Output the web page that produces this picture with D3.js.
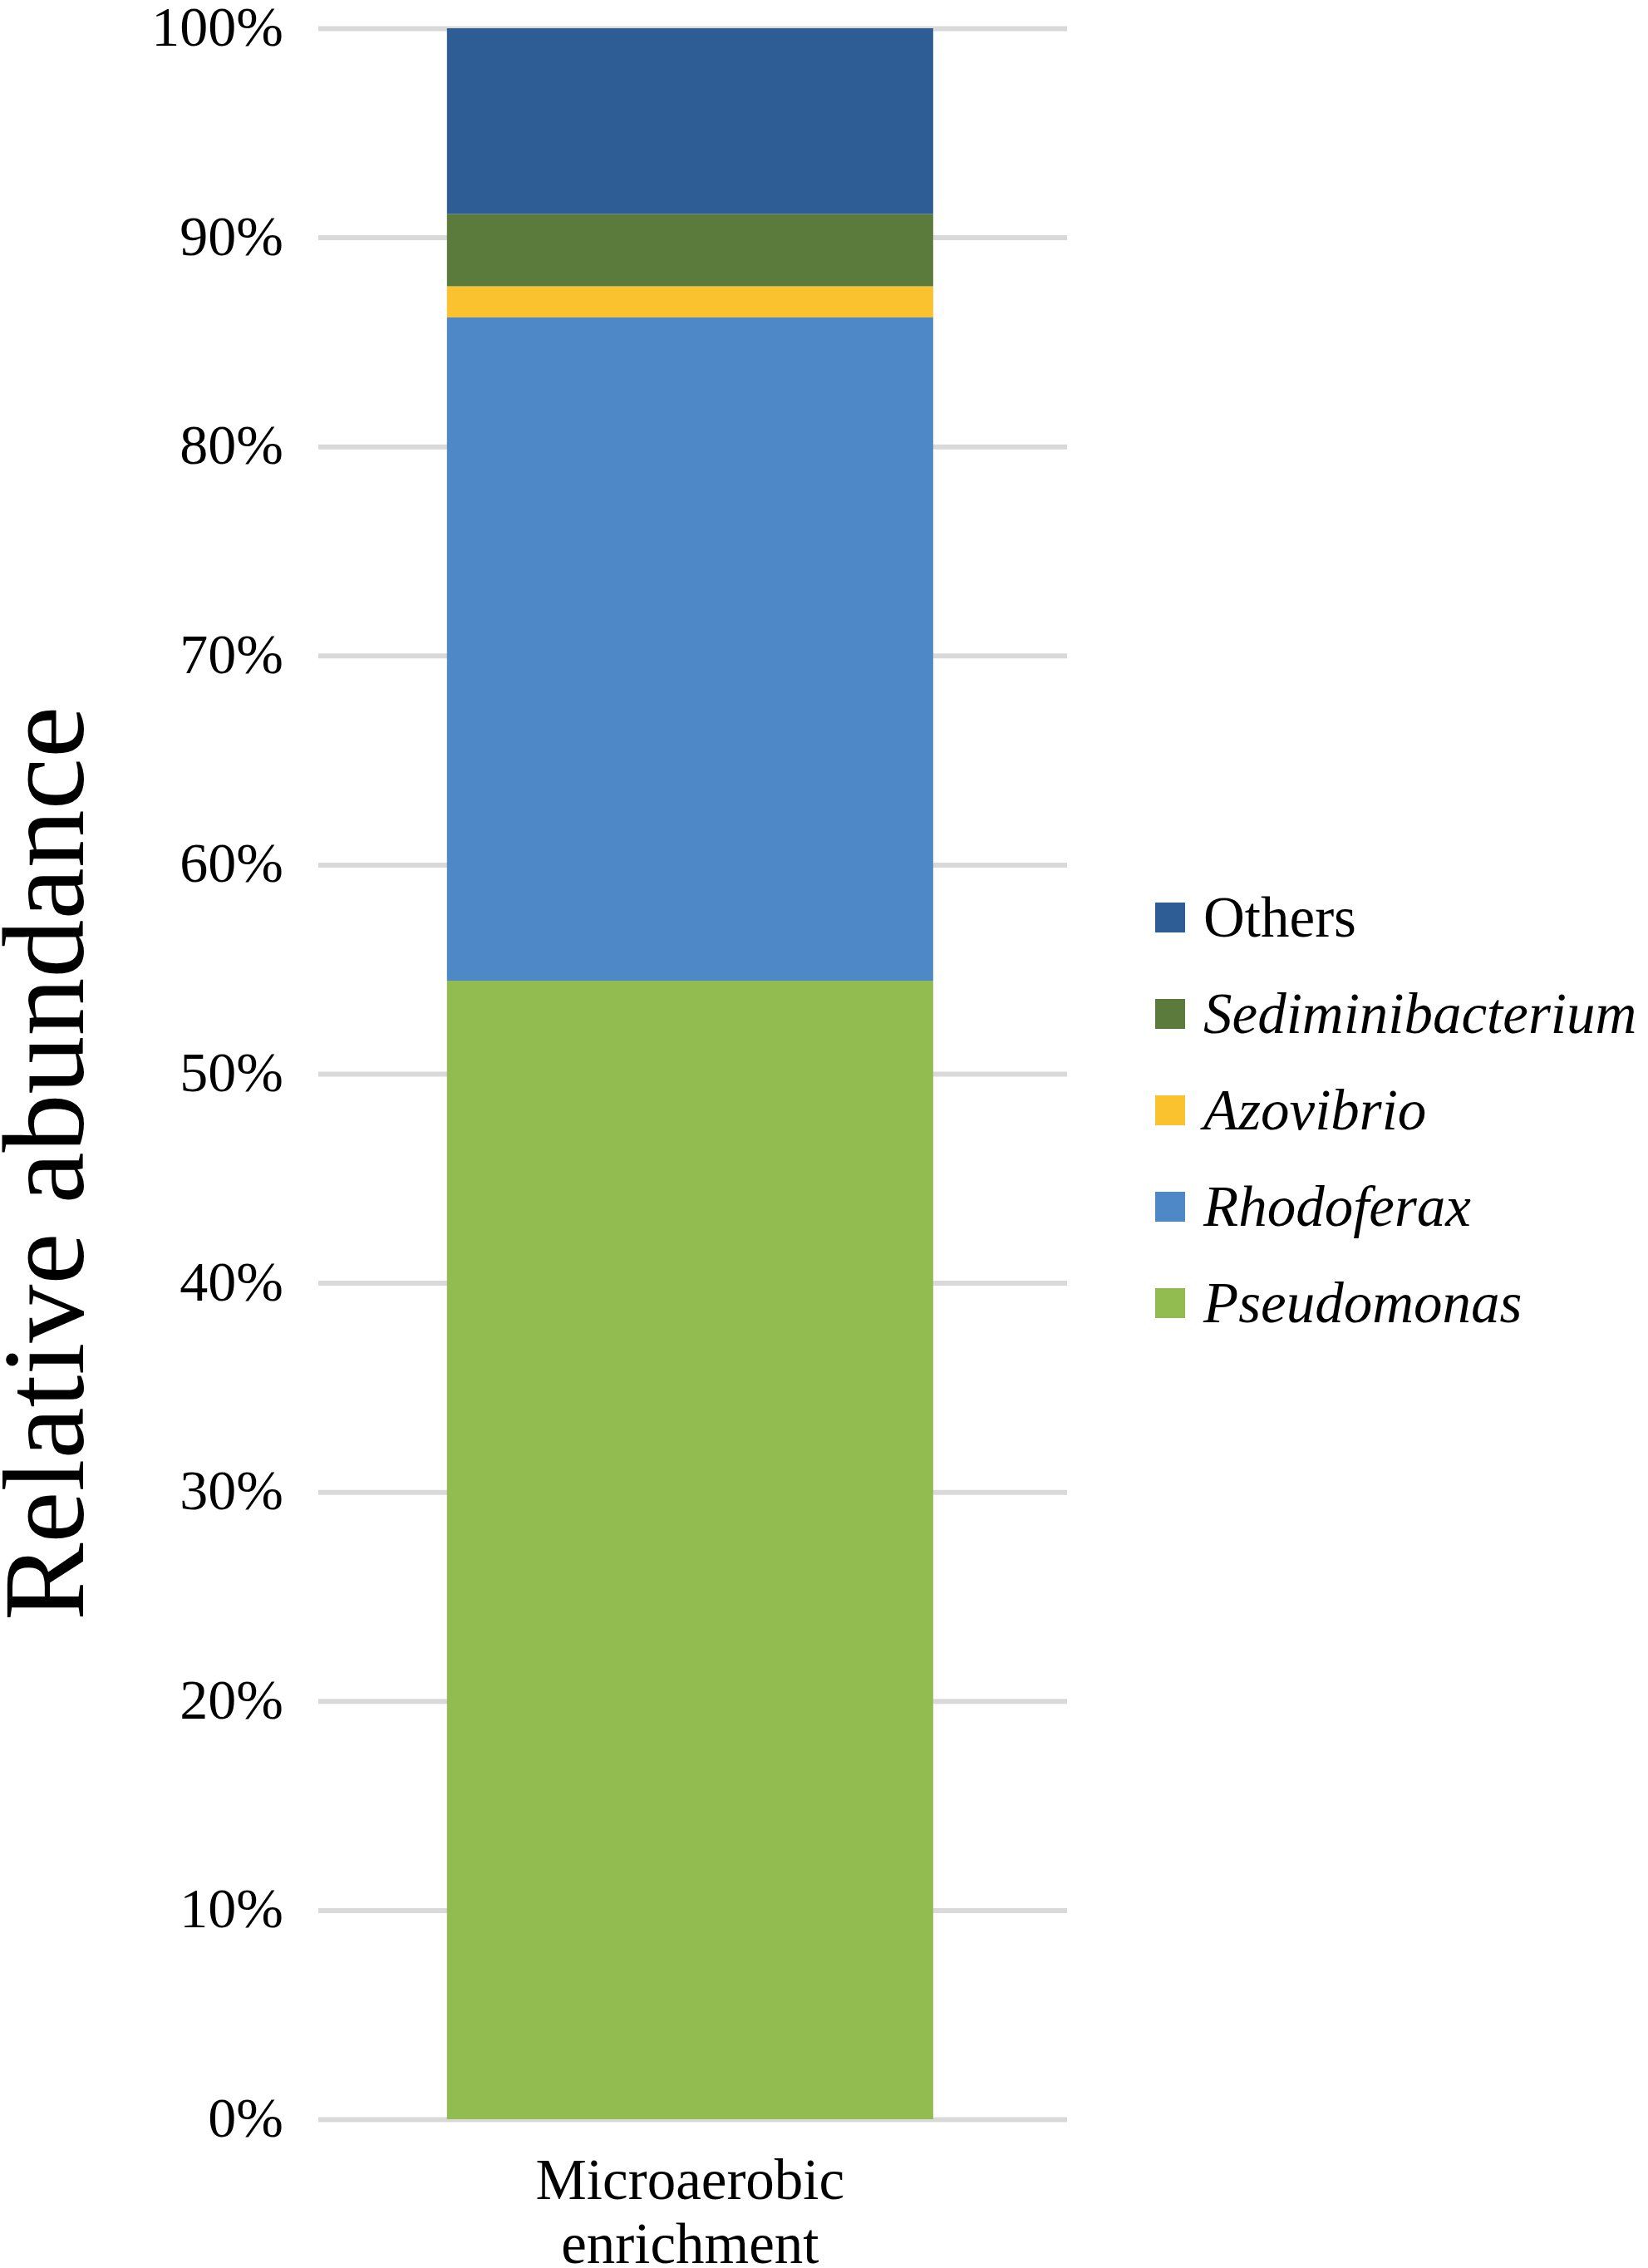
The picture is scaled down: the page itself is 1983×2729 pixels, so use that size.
<!DOCTYPE html>
<html>
<head>
<meta charset="utf-8">
<script src="https://cdn.jsdelivr.net/npm/d3@7"></script>
<style>
  body { margin: 0; background: #fff; }
  text { font-family: "Liberation Serif", "Times New Roman", serif; fill: #000; }
</style>
</head>
<body>
<div id="chart"></div>
<script>
// data (percent)
const samples = ["Microaerobic enrichment"];
const genera = ["Pseudomonas", "Rhodoferax", "Azovibrio", "Sediminibacterium", "Others"];
const pseudomonas = [54.45];
const rhodoferax = [31.72];
const azovibrio = [1.49];
const sediminibacterium = [3.46];
const others = [8.88];
const yTicks = [0, 10, 20, 30, 40, 50, 60, 70, 80, 90, 100];

const colors = {
  Pseudomonas: "#92bb50",
  Rhodoferax: "#4e88c7",
  Azovibrio: "#f9c22e",
  Sediminibacterium: "#5b7b3c",
  Others: "#2e5d95"
};

const width = 1983, height = 2729;
const plotLeft = 383, plotRight = 1284, plotTop = 34, plotBottom = 2550;

const svg = d3.select("#chart").append("svg")
  .attr("width", width)
  .attr("height", height);

const rows = samples.map((s, i) => ({
  sample: s,
  Pseudomonas: pseudomonas[i],
  Rhodoferax: rhodoferax[i],
  Azovibrio: azovibrio[i],
  Sediminibacterium: sediminibacterium[i],
  Others: others[i]
}));

const x = d3.scaleBand().domain(samples).range([plotLeft, plotRight])
  .paddingInner(0).paddingOuter(0.27).align(0.49);
const y = d3.scaleLinear().domain([0, 100]).range([plotBottom, plotTop]);

// gridlines + tick labels
const yAxis = svg.append("g")
  .attr("transform", `translate(${plotLeft},0)`)
  .call(d3.axisLeft(y).tickValues(yTicks).tickSize(-(plotRight - plotLeft)).tickPadding(42)
    .tickFormat(d => d + "%"));
yAxis.select(".domain").remove();
yAxis.selectAll(".tick line").attr("stroke", "#d9d9d9").attr("stroke-width", 6);
yAxis.selectAll(".tick text")
  .attr("font-size", 68)
  .attr("dy", "0.3em")
  .style("font-family", "Liberation Serif, serif");

// stacked bar
const stacked = d3.stack().keys(genera)(rows);
svg.append("g").selectAll("rect")
  .data(stacked)
  .enter()
  .append("rect")
  .attr("x", d => x(d[0].data.sample))
  .attr("width", x.bandwidth())
  .attr("y", d => y(d[0][1]))
  .attr("height", d => y(d[0][0]) - y(d[0][1]))
  .attr("fill", d => colors[d.key]);

// category label (two lines)
const xAxis = svg.append("g")
  .attr("transform", `translate(0,${plotBottom})`)
  .call(d3.axisBottom(x).tickSize(0).tickPadding(0));
xAxis.select(".domain").remove();
xAxis.selectAll(".tick text").each(function (d) {
  const t = d3.select(this).text("").attr("font-size", 69)
    .style("font-family", "Liberation Serif, serif").attr("y", 0).attr("dy", null);
  d.split(" ").forEach((w, i) => {
    t.append("tspan").attr("x", 0).attr("y", 96 + i * 77).text(w);
  });
});

// y title
svg.append("text")
  .attr("transform", "translate(100,1400) rotate(-90)")
  .attr("text-anchor", "middle")
  .attr("font-size", 140)
  .text("Relative abundance");

// legend, top to bottom reversed from stack order
const legendKeys = genera.slice().reverse();
const legend = svg.append("g").selectAll("g")
  .data(legendKeys)
  .enter()
  .append("g")
  .attr("transform", (d, i) => `translate(1390,${1104 + i * 116})`);

legend.append("rect")
  .attr("x", 0).attr("y", -18)
  .attr("width", 36).attr("height", 36)
  .attr("fill", d => colors[d]);

legend.append("text")
  .attr("x", 58)
  .attr("dy", "0.33em")
  .attr("font-size", 69)
  .attr("font-style", d => d === "Others" ? "normal" : "italic")
  .text(d => d);
</script>
</body>
</html>
